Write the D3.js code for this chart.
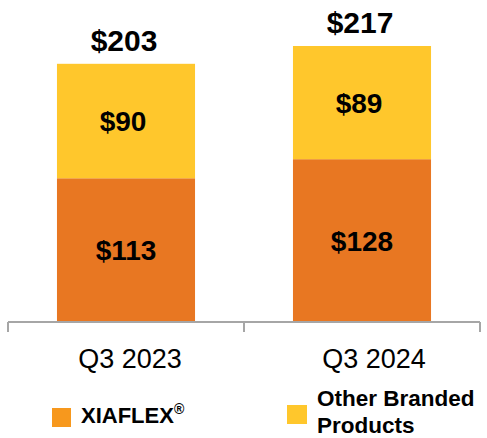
<!DOCTYPE html>
<html>
<head>
<meta charset="utf-8">
<script src="https://cdn.jsdelivr.net/npm/d3@7"></script>
<style>
  body { margin: 0; background: #fff; }
  svg { display: block; font-family: "Liberation Sans", Arial, sans-serif; }
</style>
</head>
<body>
<script>
// data
const categories = ["Q3 2023", "Q3 2024"]
const xiaflex = [113, 128]
const otherBranded = [90, 89]
const totals = [203, 217]
const seriesNames = ["XIAFLEX", "Other Branded Products"]

const width = 487
const height = 438
const barColors = ["#e87722", "#ffc72c"]
const legendColors = ["#f7981d", "#ffc72c"]

const svg = d3.select("body")
    .append("svg")
    .attr("width", width)
    .attr("height", height)

const x = d3.scaleBand()
    .domain(categories)
    .range([8, 480])
    .paddingInner(0.415)
    .paddingOuter(0.2075)

const y = d3.scaleLinear()
    .domain([0, 217])
    .range([322, 46])

const rows = categories.map((c, i) => ({ cat: c, a: xiaflex[i], b: otherBranded[i], t: totals[i] }))

// orange (bottom) segment
svg.selectAll("rect.xia")
    .data(rows)
    .enter()
    .append("rect")
    .attr("class", "xia")
    .attr("x", d => x(d.cat))
    .attr("width", x.bandwidth())
    .attr("y", d => y(d.a))
    .attr("height", d => y(0) - y(d.a))
    .attr("fill", barColors[0])

// yellow (top) segment
svg.selectAll("rect.oth")
    .data(rows)
    .enter()
    .append("rect")
    .attr("class", "oth")
    .attr("x", d => x(d.cat))
    .attr("width", x.bandwidth())
    .attr("y", d => y(d.a + d.b))
    .attr("height", d => y(d.a) - y(d.a + d.b))
    .attr("fill", barColors[1])

// segment labels
svg.selectAll("text.lblA")
    .data(rows)
    .enter()
    .append("text")
    .attr("x", d => x(d.cat) + x.bandwidth() / 2)
    .attr("y", d => (y(0) + y(d.a)) / 2 + 10)
    .attr("text-anchor", "middle")
    .attr("font-size", 28)
    .attr("font-weight", "bold")
    .text(d => "$" + d.a)

svg.selectAll("text.lblB")
    .data(rows)
    .enter()
    .append("text")
    .attr("x", d => x(d.cat) + x.bandwidth() / 2 - 3)
    .attr("y", d => (y(d.a) + y(d.a + d.b)) / 2 + 10)
    .attr("text-anchor", "middle")
    .attr("font-size", 28)
    .attr("font-weight", "bold")
    .text(d => "$" + d.b)

// totals
svg.selectAll("text.tot")
    .data(rows)
    .enter()
    .append("text")
    .attr("x", d => x(d.cat) + x.bandwidth() / 2 - 2)
    .attr("y", d => y(d.t) - 13)
    .attr("text-anchor", "middle")
    .attr("font-size", 30)
    .attr("font-weight", "bold")
    .text(d => "$" + d.t)

// axis line with ticks at band edges
const edges = [x.range()[0], x.range()[0] + x.step(), x.range()[1]]
svg.append("line")
    .attr("x1", x.range()[0]).attr("x2", x.range()[1])
    .attr("y1", y(0)).attr("y2", y(0))
    .attr("stroke", "#a6a6a6")
    .attr("stroke-width", 2)
svg.selectAll("line.tick")
    .data(edges)
    .enter()
    .append("line")
    .attr("x1", d => d).attr("x2", d => d)
    .attr("y1", y(0)).attr("y2", y(0) + 10)
    .attr("stroke", "#a6a6a6")
    .attr("stroke-width", 2)

// category labels
svg.selectAll("text.cat")
    .data(categories)
    .enter()
    .append("text")
    .attr("x", (d, i) => x(d) + x.bandwidth() / 2 + 4 + i * 8)
    .attr("y", 368)
    .attr("text-anchor", "middle")
    .attr("font-size", 27)
    .text(d => d)

// legend
const lg = svg.append("g")
lg.append("rect")
    .attr("x", 52).attr("y", 408)
    .attr("width", 19).attr("height", 19)
    .attr("fill", legendColors[0])
const t1 = lg.append("text")
    .attr("x", 81).attr("y", 423)
    .attr("font-size", 22)
    .attr("font-weight", "bold")
t1.append("tspan").text(seriesNames[0])
t1.append("tspan").attr("font-size", 14).attr("dy", -9).text("®")

lg.append("rect")
    .attr("x", 287).attr("y", 405)
    .attr("width", 20).attr("height", 19)
    .attr("fill", legendColors[1])
const t2 = lg.append("text")
    .attr("x", 317).attr("y", 406)
    .attr("font-size", 22.5)
    .attr("font-weight", "bold")
t2.append("tspan").attr("x", 317).text("Other Branded")
t2.append("tspan").attr("x", 317).attr("dy", 27).text("Products")
</script>
</body>
</html>
